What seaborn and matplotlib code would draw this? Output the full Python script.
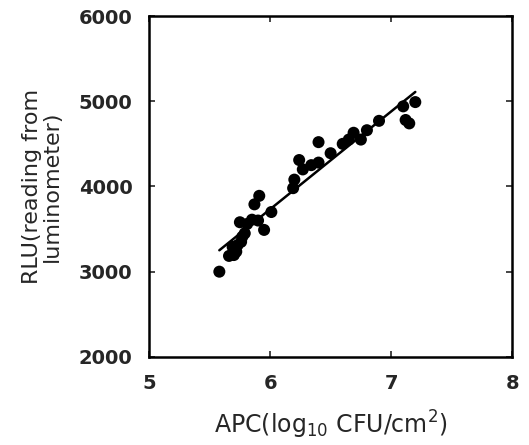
import numpy as np
import pandas as pd
import matplotlib
matplotlib.use("Agg")
import matplotlib.pyplot as plt
import seaborn as sns

# values
apc = [5.58, 5.66, 5.70, 5.72, 5.69, 5.73, 5.76, 5.77, 5.79, 5.75, 5.81,
       5.85, 5.87, 5.91, 5.90, 5.95, 6.01, 6.19, 6.20, 6.24, 6.27, 6.34,
       6.40, 6.40, 6.50, 6.60, 6.65, 6.69, 6.75, 6.80, 6.90, 7.10, 7.12,
       7.15, 7.20]
rlu = [3000, 3185, 3195, 3235, 3290, 3310, 3350, 3410, 3450, 3580, 3560,
       3610, 3790, 3890, 3600, 3490, 3700, 3980, 4080, 4310, 4200, 4250,
       4280, 4520, 4390, 4500, 4550, 4630, 4550, 4660, 4770, 4940, 4780,
       4740, 4990]

data = pd.DataFrame({"APC": apc, "RLU": rlu})

sns.set_style("ticks")
plt.rcParams["font.family"] = ["DejaVu Sans"]

fig = plt.figure(figsize=(5.29, 4.45), dpi=100)
ax = fig.add_axes([0.282, 0.198, 0.686, 0.766])

sns.regplot(x="APC", y="RLU", data=data, ax=ax, ci=None, truncate=True,
            scatter_kws={"s": 75, "color": "black", "edgecolor": "none", "alpha": 1},
            line_kws={"color": "black", "lw": 1.8})

ax.set_xlim(5, 8)
ax.set_ylim(2000, 6000)
ax.set_xticks([5, 6, 7, 8])
ax.set_yticks([2000, 3000, 4000, 5000, 6000])
ax.tick_params(direction="in", length=4, labelsize=14, pad=12,
               top=True, right=True, width=1.2)
for lab in ax.get_xticklabels() + ax.get_yticklabels():
    lab.set_fontweight("semibold")
for s in ax.spines.values():
    s.set_linewidth(1.8)
    s.set_color("black")

ax.set_xlabel("APC(log$_{10}$ CFU/cm$^2$)", fontsize=17, labelpad=12)
ax.set_ylabel("RLU(reading from\nluminometer)", fontsize=16, labelpad=12,
              linespacing=1.0)

fig.savefig("out.png", dpi=100)
